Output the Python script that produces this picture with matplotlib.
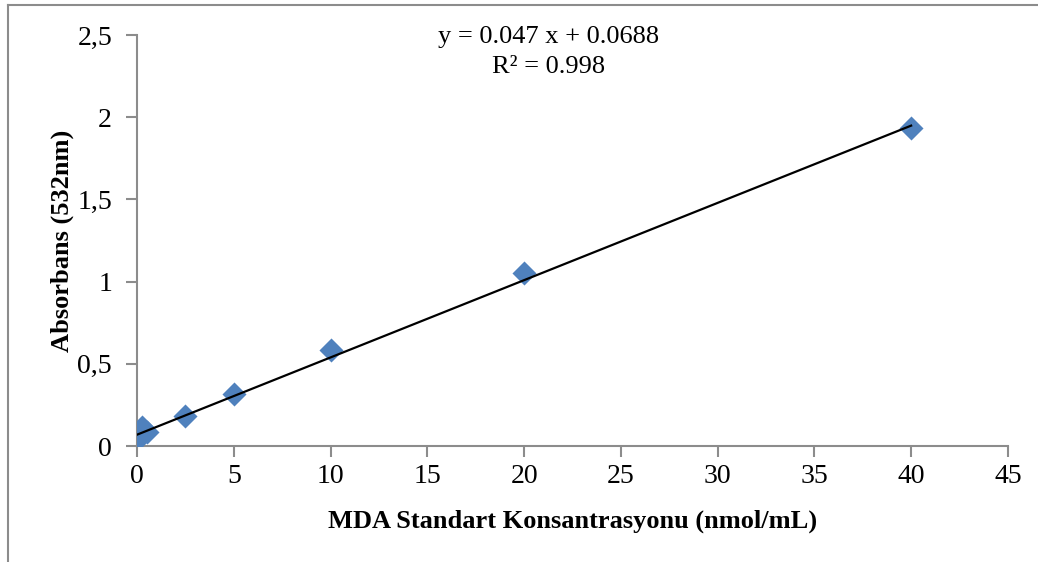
import numpy as np
import matplotlib.pyplot as plt
from matplotlib.lines import Line2D

# MDA standard curve
conc = [0, 0.25, 0.5, 2.5, 5, 10, 20, 40]
absorb = [0.036, 0.116, 0.085, 0.182, 0.316, 0.584, 1.052, 1.934]
slope, intercept = 0.047, 0.0688
r2 = 0.998
y_ticks = [0, 0.5, 1, 1.5, 2, 2.5]
y_tick_labels = ["0", "0,5", "1", "1,5", "2", "2,5"]
x_ticks = [0, 5, 10, 15, 20, 25, 30, 35, 40, 45]

plt.rcParams['font.family'] = ['Liberation Serif', 'DejaVu Serif']
axis_gray = '#8c8c8c'

fig = plt.figure(figsize=(10.38, 5.62), dpi=100)
ax = fig.add_axes([0.132, 0.2064, 0.839, 0.7313])

ax.scatter(conc, absorb, marker='D', s=150, color='#4f81bd', zorder=2, linewidths=0)
fit_x = np.array([0, max(conc)])
ax.plot(fit_x, slope * fit_x + intercept, color='black', lw=1.6, zorder=3)

ax.set_xlim(0, 45)
ax.set_ylim(0, 2.5)
ax.set_xticks(x_ticks)
ax.set_yticks(y_ticks)
ax.set_yticklabels(y_tick_labels)
ax.tick_params(labelsize=20, color=axis_gray, length=8, width=1.5, direction='out')
ax.tick_params(axis='y', pad=10)
ax.tick_params(axis='x', pad=5)

for side in ['top', 'right']:
    ax.spines[side].set_visible(False)
for side in ['left', 'bottom']:
    ax.spines[side].set_color(axis_gray)
    ax.spines[side].set_linewidth(1.5)
    ax.spines[side].set_zorder(1)

ax.set_xlabel("MDA Standart Konsantrasyonu (nmol/mL)", fontsize=19, fontweight='bold', labelpad=15)
ax.set_ylabel("Absorbans (532nm)", fontsize=19, fontweight='bold', labelpad=2)

fig.text(0.528, 0.907, f"y = {slope} x + {intercept}\nR² = {r2}",
         ha='center', va='center', fontsize=19, linespacing=1.45)

# outer chart frame (top and left edges)
fig.add_artist(Line2D([0.008, 1.0], [0.991, 0.991], color=axis_gray, lw=1.5))
fig.add_artist(Line2D([0.008, 0.008], [0.0, 0.991], color=axis_gray, lw=1.5))

fig.savefig("out.png", dpi=100)
